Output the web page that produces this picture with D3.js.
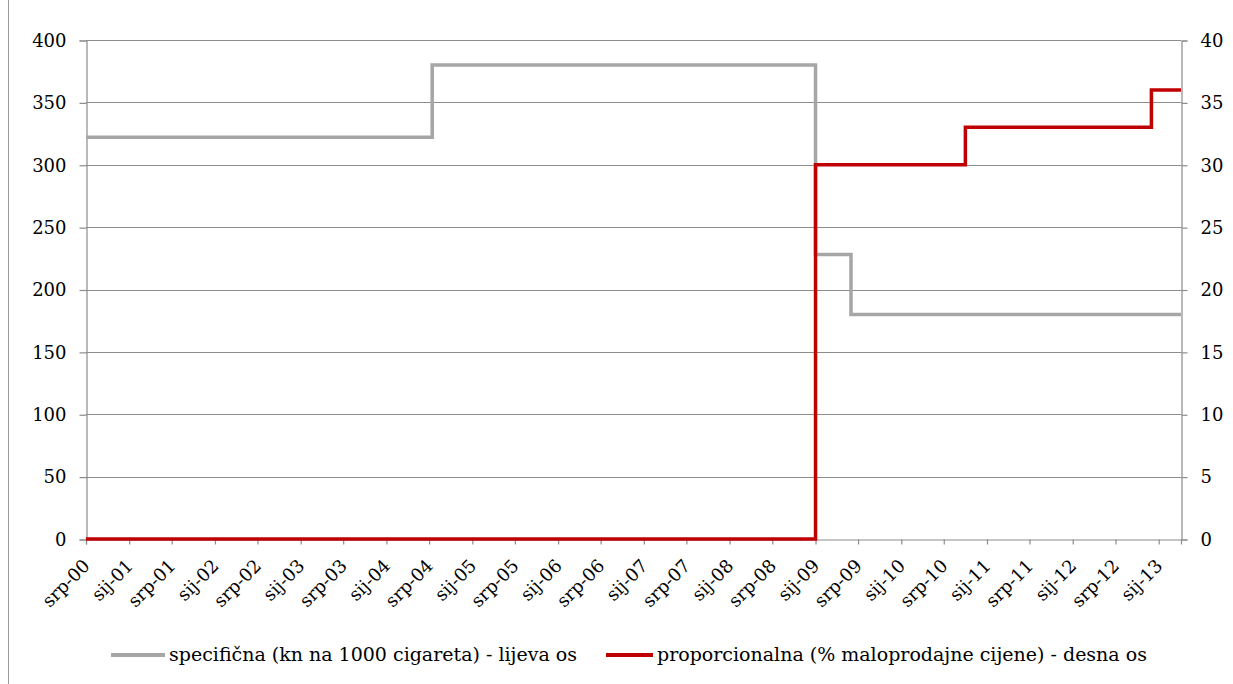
<!DOCTYPE html>
<html>
<head>
<meta charset="utf-8">
<script src="https://cdn.jsdelivr.net/npm/d3@7"></script>
<style>
  body { margin: 0; background: #fff; }
  svg { display: block; }
  text { font-family: "DejaVu Serif", serif; fill: #000; }
</style>
</head>
<body>
<div id="container"></div>
<script>
// Data: step series
const specDates = ["2000-07-01", "2004-07-14", "2009-01-01", "2009-06-01", "2013-04-06"];
const specValues = [322, 380, 228, 180, 180];
const propDates = ["2000-07-01", "2009-01-01", "2010-10-01", "2012-12-01", "2013-04-06"];
const propValues = [0, 30, 33, 36, 36];

const tickLabels = ["srp-00", "sij-01", "srp-01", "sij-02", "srp-02", "sij-03", "srp-03", "sij-04",
  "srp-04", "sij-05", "srp-05", "sij-06", "srp-06", "sij-07", "srp-07", "sij-08", "srp-08",
  "sij-09", "srp-09", "sij-10", "srp-10", "sij-11", "srp-11", "sij-12", "srp-12", "sij-13"];
const leftTicks = [0, 50, 100, 150, 200, 250, 300, 350, 400];
const rightTicks = [0, 5, 10, 15, 20, 25, 30, 35, 40];
const legendLabels = ["specifična (kn na 1000 cigareta) - lijeva os",
  "proporcionalna (% maloprodajne cijene) - desna os"];

const width = 1233;
const height = 684;
const margin = { top: 40, right: 52, bottom: 145, left: 86 };
const fontFamily = "'DejaVu Serif', serif";
const gridColor = "#8c8c8c";
const grayColor = "#a6a6a6";
const redColor = "#c00000";

const parse = d3.timeParse("%Y-%m-%d");
const start = parse(specDates[0]);
const end = parse(specDates[specDates.length - 1]);

const x = d3.scaleTime().domain([start, end]).range([margin.left, width - margin.right]);
const yL = d3.scaleLinear().domain([0, 400]).range([height - margin.bottom, margin.top]);
const yR = d3.scaleLinear().domain([0, 40]).range([height - margin.bottom, margin.top]);

const tickDates = tickLabels.map((d, i) => d3.timeMonth.offset(start, 6 * i));

const svg = d3.select("#container").append("svg")
  .attr("width", width)
  .attr("height", height);

// chart frame
svg.append("line")
  .attr("x1", 8.5).attr("x2", 8.5)
  .attr("y1", 0).attr("y2", height)
  .attr("stroke", "#999").attr("stroke-width", 1);

// gridlines
svg.append("g")
  .selectAll("line")
  .data(leftTicks.slice(1))
  .enter()
  .append("line")
  .attr("x1", margin.left)
  .attr("x2", width - margin.right)
  .attr("y1", (d) => Math.round(yL(d)) + 0.5)
  .attr("y2", (d) => Math.round(yL(d)) + 0.5)
  .attr("stroke", gridColor)
  .attr("stroke-width", 1.2);

// left axis
const leftAxis = svg.append("g")
  .attr("transform", "translate(" + (margin.left + 0.5) + ",0.5)")
  .call(d3.axisLeft(yL).tickValues(leftTicks).tickSize(7).tickPadding(13).tickFormat(d3.format("d")));

// right axis
const rightAxis = svg.append("g")
  .attr("transform", "translate(" + (width - margin.right + 0.5) + ",0.5)")
  .call(d3.axisRight(yR).tickValues(rightTicks).tickSize(6).tickPadding(13).tickFormat(d3.format("d")));

[leftAxis, rightAxis].forEach((ax) => {
  ax.attr("font-family", fontFamily);
  ax.select(".domain").attr("stroke", gridColor).attr("stroke-width", 1.2);
  ax.selectAll(".tick line").attr("stroke", gridColor).attr("stroke-width", 1.2);
  ax.selectAll(".tick text")
    .style("font-family", fontFamily)
    .style("font-size", "18px")
    .attr("fill", "#000");
});

// bottom axis
const bottomAxis = svg.append("g")
  .attr("font-family", fontFamily)
  .attr("transform", "translate(0," + (height - margin.bottom + 0.5) + ")")
  .call(d3.axisBottom(x).tickValues(tickDates).tickSize(5).tickFormat((d, i) => tickLabels[i]));

bottomAxis.select(".domain").attr("stroke", gridColor).attr("stroke-width", 1.2);
bottomAxis.selectAll(".tick line").attr("stroke", gridColor).attr("stroke-width", 1.2);
bottomAxis.selectAll(".tick text")
  .style("font-family", fontFamily)
  .style("font-size", "18px")
  .attr("fill", "#000")
  .attr("text-anchor", "end")
  .attr("y", 0)
  .attr("dy", "0.35em")
  .attr("transform", "translate(0,23) rotate(-45)");

// series
const line = d3.line()
  .x((d) => x(d.date))
  .y((d) => d.y)
  .curve(d3.curveStepAfter);

const specData = specDates.map((d, i) => ({ date: parse(d), y: yL(specValues[i]) }));
const propData = propDates.map((d, i) => ({ date: parse(d), y: yR(propValues[i]) }));

svg.append("path")
  .datum(specData)
  .attr("d", line)
  .attr("fill", "none")
  .attr("stroke", grayColor)
  .attr("stroke-width", 3.5);

svg.append("path")
  .datum(propData)
  .attr("d", line)
  .attr("fill", "none")
  .attr("stroke", redColor)
  .attr("stroke-width", 3.5);

// legend
const legend = svg.append("g");
const legendItems = [
  { label: legendLabels[0], color: grayColor, x1: 111, x2: 165 },
  { label: legendLabels[1], color: redColor, x1: 606, x2: 653 }
];
legendItems.forEach((d) => {
  legend.append("line")
    .attr("x1", d.x1).attr("x2", d.x2)
    .attr("y1", 655).attr("y2", 655)
    .attr("stroke", d.color)
    .attr("stroke-width", 4);
  legend.append("text")
    .attr("x", d.x2 + 4)
    .attr("y", 655)
    .attr("dy", "0.32em")
    .style("font-family", fontFamily)
    .style("font-size", "19px")
    .text(d.label);
});
</script>
</body>
</html>
